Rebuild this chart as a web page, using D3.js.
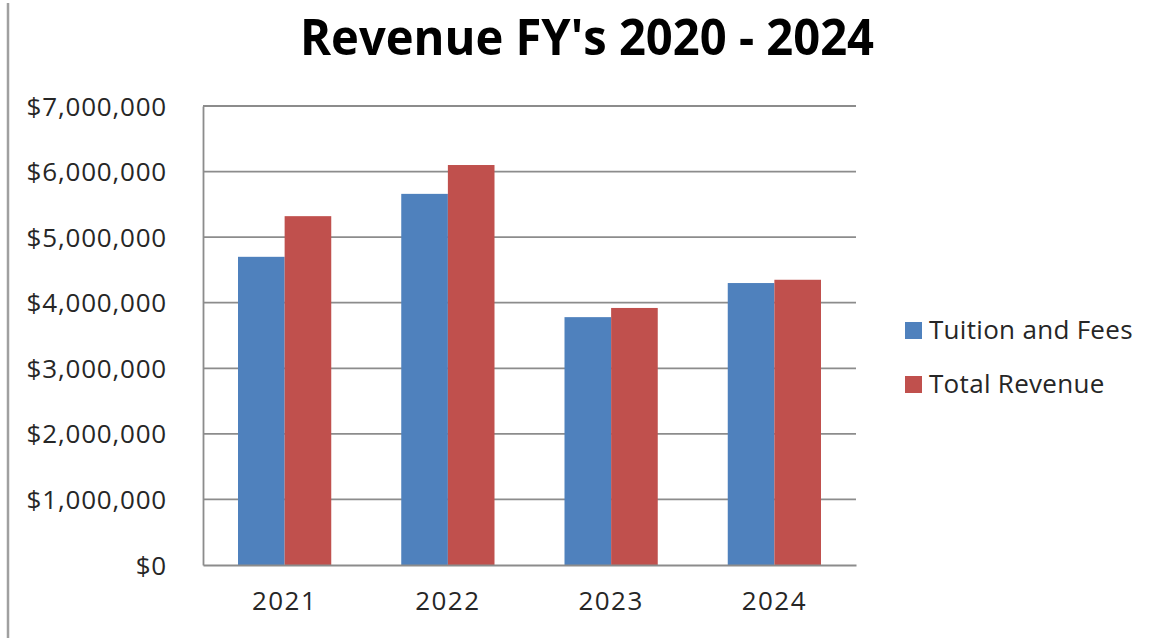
<!DOCTYPE html>
<html>
<head>
<meta charset="utf-8">
<script src="https://cdn.jsdelivr.net/npm/d3@7"></script>
<style>
  html, body { margin: 0; padding: 0; background: #fff; }
  svg { display: block; }
  text { font-family: "Open Sans", sans-serif; fill: #262626; }
</style>
</head>
<body>
<div id="chart"></div>
<script>
// Data
const years = ["2021", "2022", "2023", "2024"];
const seriesNames = ["Tuition and Fees", "Total Revenue"];
const tuitionAndFees = [4700000, 5660000, 3780000, 4300000];
const totalRevenue = [5320000, 6100000, 3920000, 4350000];
const yTicks = [0, 1000000, 2000000, 3000000, 4000000, 5000000, 6000000, 7000000];
const seriesColors = ["#4F81BD", "#C0504D"];

const W = 1152, H = 638;
const margin = { top: 106, right: 296, bottom: 73, left: 203 };
const width = W - margin.left - margin.right;
const height = H - margin.top - margin.bottom;

const root = d3.select("#chart").append("svg")
    .attr("width", W)
    .attr("height", H);

// Frame edge on the left of the picture
root.append("line")
    .attr("x1", 8).attr("x2", 8)
    .attr("y1", 3).attr("y2", H)
    .attr("stroke", "#a0a0a0")
    .attr("stroke-width", 2.5);

// Title
root.append("text")
    .attr("x", 587)
    .attr("y", 55)
    .attr("text-anchor", "middle")
    .attr("textLength", 574)
    .attr("lengthAdjust", "spacingAndGlyphs")
    .style("font-size", "50px")
    .style("font-weight", "bold")
    .style("fill", "#000")
    .text("Revenue FY's 2020 - 2024");

const svg = root.append("g")
    .attr("transform", `translate(${margin.left},${margin.top})`);

// Scales
const x0 = d3.scaleBand().domain(years).range([0, width]).padding(0);
const x1 = d3.scaleBand().domain(seriesNames).range([35, x0.bandwidth() - 35]).padding(0);
const y = d3.scaleLinear().domain([0, 7000000]).range([height, 0]);

// Gridlines
svg.selectAll(".grid")
    .data(yTicks.filter(d => d > 0))
    .enter()
    .append("line")
    .attr("class", "grid")
    .attr("x1", 0).attr("x2", width)
    .attr("y1", d => y(d)).attr("y2", d => y(d))
    .attr("stroke", "#8c8c8c")
    .attr("stroke-width", 1.8);

// Y axis
const yAxis = svg.append("g")
    .call(d3.axisLeft(y).tickValues(yTicks).tickSize(0).tickPadding(36)
        .tickFormat(d => "$" + d3.format(",")(d)));
yAxis.select(".domain").attr("stroke", "#8c8c8c").attr("stroke-width", 1.8);
yAxis.selectAll("text")
    .style("font-size", "26px")
    .style("letter-spacing", "0.8px")
    .style("fill", "#262626")
    .attr("dy", "0.35em");

// Bars
const rows = years.map((yr, i) => ({ year: yr, values: [tuitionAndFees[i], totalRevenue[i]] }));
const groups = svg.selectAll(".group")
    .data(rows)
    .enter()
    .append("g")
    .attr("class", "group")
    .attr("transform", d => `translate(${x0(d.year)},0)`);

groups.selectAll("rect")
    .data(d => d.values.map((v, j) => ({ name: seriesNames[j], value: v, color: seriesColors[j] })))
    .enter()
    .append("rect")
    .attr("x", d => x1(d.name))
    .attr("width", x1.bandwidth())
    .attr("y", d => y(d.value))
    .attr("height", d => y(0) - y(d.value))
    .attr("fill", d => d.color);

// X axis
const xAxis = svg.append("g")
    .attr("transform", `translate(0,${height})`)
    .call(d3.axisBottom(x0).tickSize(0).tickPadding(27));
xAxis.select(".domain").attr("stroke", "#8c8c8c").attr("stroke-width", 1.8);
xAxis.selectAll("text")
    .style("font-size", "26px")
    .style("letter-spacing", "1.5px")
    .style("fill", "#262626");

// Legend
const legend = root.selectAll(".legend")
    .data(seriesNames)
    .enter()
    .append("g")
    .attr("class", "legend")
    .attr("transform", (d, i) => `translate(905,${322 + i * 54})`);

legend.append("rect")
    .attr("width", 17)
    .attr("height", 17)
    .attr("fill", (d, i) => seriesColors[i]);

legend.append("text")
    .attr("x", 24)
    .attr("y", 17)
    .style("font-size", "26px")
    .style("letter-spacing", "0.3px")
    .style("fill", "#262626")
    .text(d => d);
</script>
</body>
</html>
